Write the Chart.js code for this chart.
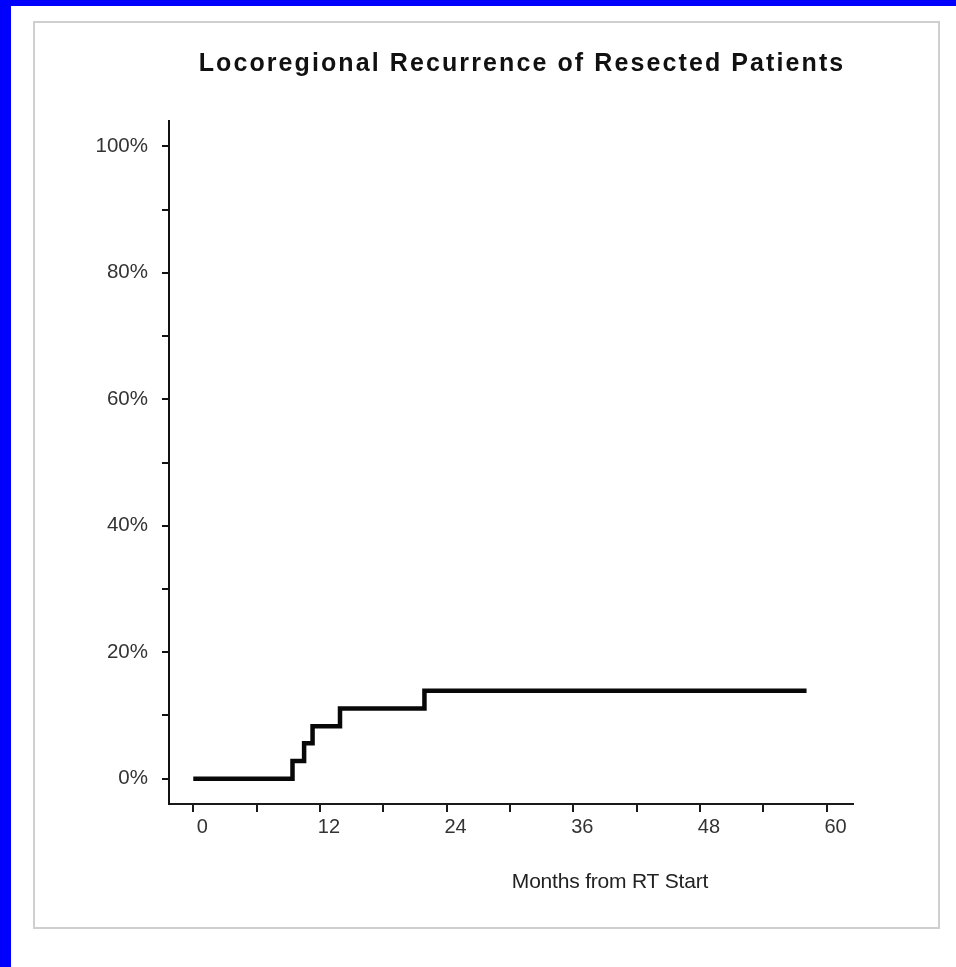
<!DOCTYPE html>
<html>
<head>
<meta charset="utf-8">
<script src="https://cdn.jsdelivr.net/npm/chart.js@4/dist/chart.umd.min.js"></script>
<style>
  html, body { margin: 0; padding: 0; background: #fff; width: 956px; height: 967px; overflow: hidden; position: relative; }
  #edgeTop { position: absolute; left: 0; top: 0; width: 956px; height: 6px; background: #0000ff; }
  #edgeLeft { position: absolute; left: 0; top: 0; width: 11px; height: 967px; background: #0000ff; }
  #frame { position: absolute; left: 33px; top: 21px; width: 903px; height: 904px; border: 2px solid #cfcfcf; }
  #plot { position: absolute; left: 0; top: 0; }
</style>
</head>
<body>
<div id="edgeTop"></div>
<div id="edgeLeft"></div>
<div id="frame"></div>
<canvas id="plot" width="956" height="967"></canvas>
<script>
// Cumulative locoregional recurrence (Kaplan-Meier style step curve)
const months = [0, 9.4, 10.5, 11.3, 13.9, 21.9, 58.1];
const recurrencePct = [0, 2.8, 5.6, 8.3, 11.1, 13.9, 13.9];

// Axis ticks: marks every 6 months / 10 %, labels every 12 months / 20 %
const xTicks = [0, 6, 12, 18, 24, 30, 36, 42, 48, 54, 60];
const yTicks = [0, 10, 20, 30, 40, 50, 60, 70, 80, 90, 100];

const chartTitle = 'Locoregional Recurrence of Resected Patients';
const xTitle = 'Months from RT Start';

const points = months.map((m, i) => ({ x: m, y: recurrencePct[i] }));

const FONT = '"Liberation Sans", Arial, Helvetica, sans-serif';

const titlesPlugin = {
  id: 'plotTitles',
  afterDraw(chart) {
    const ctx = chart.ctx;
    const a = chart.chartArea;
    ctx.save();
    ctx.textAlign = 'center';
    ctx.textBaseline = 'alphabetic';
    ctx.fillStyle = '#111';
    ctx.font = 'bold 25px ' + FONT;
    ctx.letterSpacing = '2.1px';
    ctx.fillText(chartTitle, a.left + 353, a.top - 50);
    ctx.fillStyle = '#222';
    ctx.font = '21px ' + FONT;
    ctx.letterSpacing = '-0.2px';
    ctx.fillText(xTitle, a.left + 441, a.bottom + 84);
    ctx.restore();
  }
};

new Chart(document.getElementById('plot'), {
  type: 'line',
  data: {
    datasets: [{
      data: points,
      stepped: 'before',
      borderColor: '#080808',
      borderWidth: 4.5,
      pointRadius: 0,
      fill: false,
      tension: 0
    }]
  },
  options: {
    responsive: false,
    animation: false,
    devicePixelRatio: 1,
    layout: { padding: { left: 0, top: 121, right: 103, bottom: 0 } },
    plugins: { legend: { display: false }, tooltip: { enabled: false } },
    scales: {
      x: {
        type: 'linear',
        min: -2.3,
        max: 62.5,
        afterBuildTicks(scale) { scale.ticks = xTicks.map(v => ({ value: v })); },
        afterFit(scale) { scale.height = 163; },
        border: { display: true, color: '#1a1a1a', width: 2 },
        grid: { display: true, drawOnChartArea: false, drawTicks: true, tickLength: 8, color: '#1a1a1a', lineWidth: 2 },
        ticks: {
          autoSkip: false,
          maxRotation: 0,
          padding: 3,
          labelOffset: 9,
          color: '#333',
          font: { family: FONT, size: 20 },
          callback: v => (v % 12 === 0 ? String(v) : '')
        }
      },
      y: {
        type: 'linear',
        min: -4,
        max: 104,
        afterBuildTicks(scale) { scale.ticks = yTicks.map(v => ({ value: v })); },
        afterFit(scale) { scale.width = 169; },
        border: { display: true, color: '#111', width: 2 },
        grid: { display: true, drawOnChartArea: false, drawTicks: true, tickLength: 7, color: '#111', lineWidth: 2 },
        ticks: {
          autoSkip: false,
          padding: 14,
          color: '#333',
          font: { family: FONT, size: 20.5 },
          callback: v => (v % 20 === 0 ? v + '%' : '')
        }
      }
    }
  },
  plugins: [titlesPlugin]
});
</script>
</body>
</html>
